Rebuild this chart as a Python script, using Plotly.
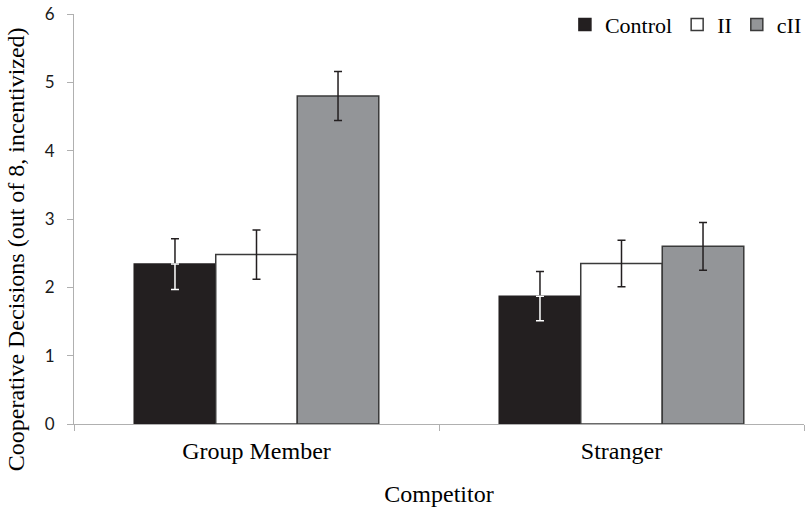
import plotly.graph_objects as go

# Data: mean cooperative decisions with standard-error bars
competitors = ["Group Member", "Stranger"]
conditions = ["Control", "II", "cII"]
means = {
    "Control": [2.34, 1.87],
    "II": [2.48, 2.35],
    "cII": [4.80, 2.60],
}
errors = {
    "Control": [0.37, 0.36],
    "II": [0.36, 0.34],
    "cII": [0.36, 0.35],
}
y_ticks = [0, 1, 2, 3, 4, 5, 6]

fills = {"Control": "#231F20", "II": "#FFFFFF", "cII": "#939598"}
outlines = {"Control": "#231F20", "II": "#3A3A3A", "cII": "#3A3A3A"}
serif = "Liberation Serif"
sans = "Lato"

fig = go.Figure()
for cond in conditions:
    dark_fill = cond == "Control"
    fig.add_trace(go.Bar(
        x=competitors, y=means[cond], name=cond, offsetgroup=cond,
        marker=dict(color=fills[cond], line=dict(color=outlines[cond], width=1.5)),
        error_y=dict(type="data", symmetric=False, array=errors[cond],
                     arrayminus=[0] * len(competitors) if dark_fill else errors[cond],
                     color="#231F20", thickness=1.5, width=4),
    ))
    if dark_fill:
        # lower whisker drawn light so it stays visible on the dark bar
        fig.add_trace(go.Bar(
            x=competitors, y=means[cond], offsetgroup=cond, showlegend=False,
            marker=dict(color="rgba(0,0,0,0)", line=dict(width=0)),
            error_y=dict(type="data", symmetric=False, array=[0] * len(competitors),
                         arrayminus=errors[cond], color="#FFFFFF", thickness=1.5, width=4),
            hoverinfo="skip",
        ))

fig.update_layout(
    width=808, height=510,
    margin=dict(l=74, r=4, t=14, b=86, autoexpand=False),
    paper_bgcolor="white", plot_bgcolor="white",
    barmode="group", bargap=0.33, bargroupgap=0,
    showlegend=True,
    legend=dict(orientation="h", x=1.004, xanchor="right", y=1.025, yanchor="top",
                font=dict(family=serif, size=22, color="black"),
                itemwidth=30, traceorder="normal", bgcolor="rgba(0,0,0,0)"),
    xaxis=dict(
        showline=True, linecolor="#B0B0B0", linewidth=1,
        ticks="outside", tickson="boundaries", ticklen=6, tickcolor="#B0B0B0",
        tickfont=dict(family=serif, size=24, color="black"), ticklabelstandoff=5,
        title=dict(text="Competitor", font=dict(family=serif, size=24, color="black"), standoff=22),
        showgrid=False, zeroline=False,
    ),
    yaxis=dict(
        range=[0, 6], tickvals=y_ticks, showline=True, linecolor="#B0B0B0", linewidth=1,
        ticks="outside", ticklen=6, tickcolor="#B0B0B0",
        tickfont=dict(family=sans, size=17, color="#1A1A1A"), ticklabelstandoff=9,
        showgrid=False, zeroline=False,
    ),
    annotations=[dict(
        text="Cooperative Decisions (out of 8, incentivized)",
        textangle=-90, xref="paper", yref="paper", x=-0.079, y=0.427,
        xanchor="center", yanchor="middle", showarrow=False,
        font=dict(family=serif, size=24, color="black"),
    )],
)

fig.write_html("out.html")
